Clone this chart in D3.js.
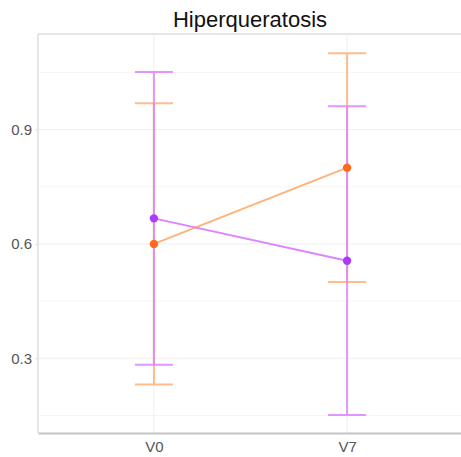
<!DOCTYPE html>
<html>
<head>
<meta charset="utf-8">
<script src="https://cdn.jsdelivr.net/npm/d3@7"></script>
<style>
  body { margin: 0; background: #fff; }
  text { font-family: "Liberation Sans", Arial, sans-serif; }
</style>
</head>
<body>
<svg id="chart" width="461" height="457"></svg>
<script>
// Data
const categories = ['V0', 'V7'];
const orangeMean = [0.6, 0.8];
const orangeErr = [0.369, 0.3];
const purpleMean = [0.667, 0.556];
const purpleErr = [0.384, 0.405];
const yTicks = [0.3, 0.6, 0.9];
const yMinor = [0.15, 0.45, 0.75, 1.05];

const series = [
    { name: 'orange', mean: orangeMean, err: orangeErr, line: '#ffb27a', dot: '#ff6a1f' },
    { name: 'purple', mean: purpleMean, err: purpleErr, line: '#dc85ff', dot: '#a83cff' }
];

const svg = d3.select('#chart');
const margin = { top: 34, right: -2, bottom: 24, left: 38 };
const width = 461 - margin.left - margin.right;
const height = 457 - margin.top - margin.bottom;

const x = d3.scalePoint()
    .domain(categories)
    .range([0, width])
    .padding(0.6);

const y = d3.scaleLinear()
    .domain([0.104, 1.1506])
    .range([height, 0]);

// Title
svg.append('text')
    .attr('x', 250)
    .attr('y', 27)
    .attr('text-anchor', 'middle')
    .attr('font-size', 22)
    .attr('fill', '#111')
    .text('Hiperqueratosis');

const g = svg.append('g')
    .attr('transform', `translate(${margin.left},${margin.top})`);

// Grid
g.selectAll('.minor')
    .data(yMinor)
    .enter().append('line')
    .attr('x1', 0).attr('x2', width)
    .attr('y1', d => y(d)).attr('y2', d => y(d))
    .attr('stroke', '#f5f5f5').attr('stroke-width', 1);

g.selectAll('.major')
    .data(yTicks)
    .enter().append('line')
    .attr('x1', 0).attr('x2', width)
    .attr('y1', d => y(d)).attr('y2', d => y(d))
    .attr('stroke', '#eeeeee').attr('stroke-width', 1);

g.selectAll('.xgrid')
    .data(categories)
    .enter().append('line')
    .attr('x1', d => x(d)).attr('x2', d => x(d))
    .attr('y1', 0).attr('y2', height)
    .attr('stroke', '#eeeeee').attr('stroke-width', 1);

// Panel border (top and left)
g.append('line')
    .attr('x1', 0).attr('x2', width).attr('y1', 0).attr('y2', 0)
    .attr('stroke', '#e6e6e6').attr('stroke-width', 2);
g.append('line')
    .attr('x1', 0).attr('x2', 0).attr('y1', 0).attr('y2', height)
    .attr('stroke', '#e6e6e6').attr('stroke-width', 2);

// Y axis labels
const yAxis = g.append('g')
    .call(d3.axisLeft(y).tickValues(yTicks).tickFormat(d3.format('.1f')).tickSize(3).tickPadding(3));
yAxis.select('.domain').remove();
yAxis.selectAll('.tick line').attr('stroke', '#e0e0e0');
yAxis.selectAll('text').attr('font-size', 15).attr('fill', '#555');

// X axis
const xAxis = g.append('g')
    .attr('transform', `translate(0,${height})`)
    .call(d3.axisBottom(x).tickSize(0).tickPadding(8));
xAxis.select('.domain').attr('stroke', '#c4c4c4').attr('stroke-width', 2);
xAxis.selectAll('text').attr('font-size', 15).attr('fill', '#555');

// Error bars, lines, dots
const capW = 19;
series.forEach(s => {
    const pts = categories.map((c, i) => ({ c, m: s.mean[i], e: s.err[i] }));
    const eg = g.append('g').attr('opacity', 0.85);
    pts.forEach(p => {
        const xx = x(p.c);
        eg.append('line')
            .attr('x1', xx).attr('x2', xx)
            .attr('y1', y(p.m - p.e)).attr('y2', y(p.m + p.e))
            .attr('stroke', s.line).attr('stroke-width', 2);
        [p.m - p.e, p.m + p.e].forEach(v => {
            eg.append('line')
                .attr('x1', xx - capW).attr('x2', xx + capW)
                .attr('y1', y(v)).attr('y2', y(v))
                .attr('stroke', s.line).attr('stroke-width', 2);
        });
    });
});

series.forEach(s => {
    const pts = categories.map((c, i) => ({ c, m: s.mean[i] }));
    g.append('path')
        .datum(pts)
        .attr('fill', 'none')
        .attr('stroke', s.line)
        .attr('stroke-width', 2)
        .attr('d', d3.line().x(d => x(d.c)).y(d => y(d.m)));
    g.selectAll(null)
        .data(pts)
        .enter().append('circle')
        .attr('cx', d => x(d.c))
        .attr('cy', d => y(d.m))
        .attr('r', 4.2)
        .attr('fill', s.dot);
});
</script>
</body>
</html>
